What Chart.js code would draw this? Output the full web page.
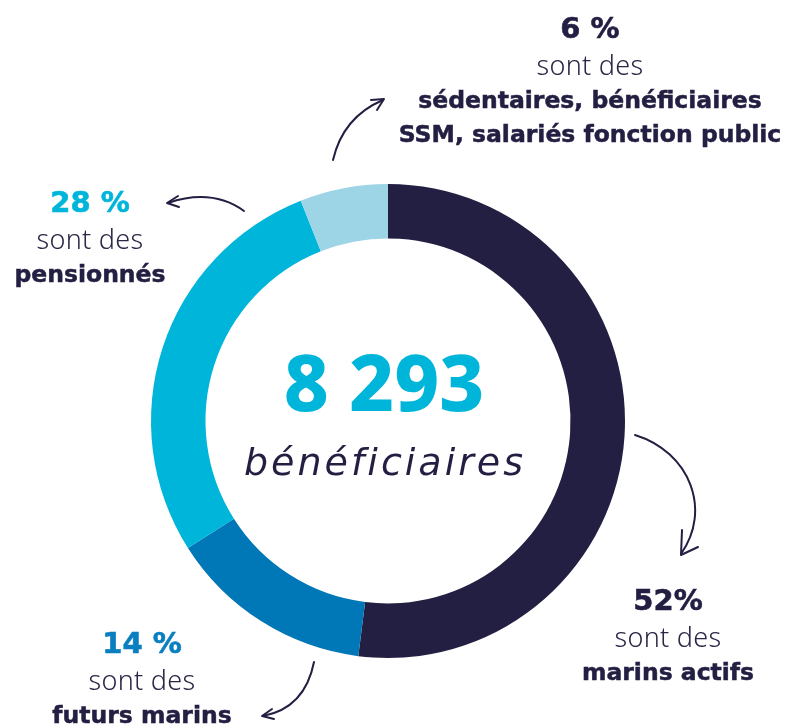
<!DOCTYPE html>
<html>
<head>
<meta charset="utf-8">
<script src="https://cdn.jsdelivr.net/npm/chart.js"></script>
<style>
	body { margin: 0; background: #fff; }
	#wrap { position: relative; width: 785px; height: 728px; overflow: hidden; }
	#chart { position: absolute; left: 0; top: 0; }
	#arrows { position: absolute; left: 0; top: 0; }
	.lbl { position: absolute; text-align: center; color: #231f42; white-space: nowrap; transform: translateX(-50%); }
	.lbl .pct { font-family: "DejaVu Sans", sans-serif; font-weight: 700; font-size: 29px; line-height: 37px; -webkit-text-stroke: 0.6px currentColor; }
	.lbl .mid { font-family: "Noto Sans", sans-serif; font-weight: 300; font-size: 27px; letter-spacing: 0.3px; line-height: 36px; color: #2a2646; }
	.lbl .big { font-family: "DejaVu Sans", sans-serif; font-weight: 700; font-size: 23.5px; line-height: 34px; -webkit-text-stroke: 0.5px currentColor; }
	#total { position: absolute; left: 384px; top: 336px; transform: translateX(-50%); color: #00b5da; font-family: "Noto Sans", sans-serif; font-weight: 800; font-size: 78px; line-height: 90px; white-space: nowrap; }
	#sub { position: absolute; left: 385px; top: 437px; transform: translateX(-50%); color: #231f42; font-family: "DejaVu Sans", sans-serif; font-style: italic; font-weight: 200; font-size: 38px; letter-spacing: 3px; line-height: 50px; white-space: nowrap; }
</style>
</head>
<body>
<div id="wrap">
	<canvas id="chart" width="785" height="728"></canvas>
	<svg id="arrows" width="785" height="728" fill="none" stroke="#231f42" stroke-width="2" stroke-linecap="round" stroke-linejoin="round">
		<path d="M333 160 Q343 117 383 100"/>
		<path d="M371 100 L384 99 L377 110"/>
		<path d="M244 211 Q212 188 168 203"/>
		<path d="M178 196 L167 203 L179 207"/>
		<path d="M635 435 C690 452 712 510 681 554"/>
		<path d="M682 530 L681 555 L698 547"/>
		<path d="M314 662 Q305 708 263 716"/>
		<path d="M272 709 L262 716 L274 719"/>
	</svg>
	<div class="lbl" style="left:590px; top:10px;"><div class="pct">6 %</div><div class="mid">sont des</div><div class="big">sédentaires, bénéficiaires</div><div class="big">SSM, salariés fonction public</div></div>
	<div class="lbl" style="left:90px; top:184px;"><div class="pct" style="color:#00b5da">28 %</div><div class="mid">sont des</div><div class="big">pensionnés</div></div>
	<div class="lbl" style="left:668px; top:582px;"><div class="pct">52%</div><div class="mid">sont des</div><div class="big">marins actifs</div></div>
	<div class="lbl" style="left:142px; top:625px;"><div class="pct" style="color:#0a7fc0">14 %</div><div class="mid">sont des</div><div class="big">futurs marins</div></div>
	<div id="total">8 293</div>
	<div id="sub">bénéficiaires</div>
</div>
<script>
var categories = ['marins actifs', 'futurs marins', 'pensionnés', 'sédentaires, bénéficiaires SSM, salariés fonction public'];
var values = [52, 14, 28, 6];
var colors = ['#231f42', '#0077b6', '#00b5da', '#9dd4e6'];

var ctx = document.getElementById('chart');
var chart = new Chart(ctx, {
	type: 'doughnut',
	data: {
		labels: categories,
		datasets: [{
			data: values,
			backgroundColor: colors,
			borderWidth: 0
		}]
	},
	options: {
		responsive: false,
		animation: false,
		cutout: '77%',
		layout: { padding: { left: 151, right: 160, top: 184, bottom: 70 } },
		plugins: {
			legend: { display: false },
			tooltip: { enabled: false }
		}
	}
});
</script>
</body>
</html>
